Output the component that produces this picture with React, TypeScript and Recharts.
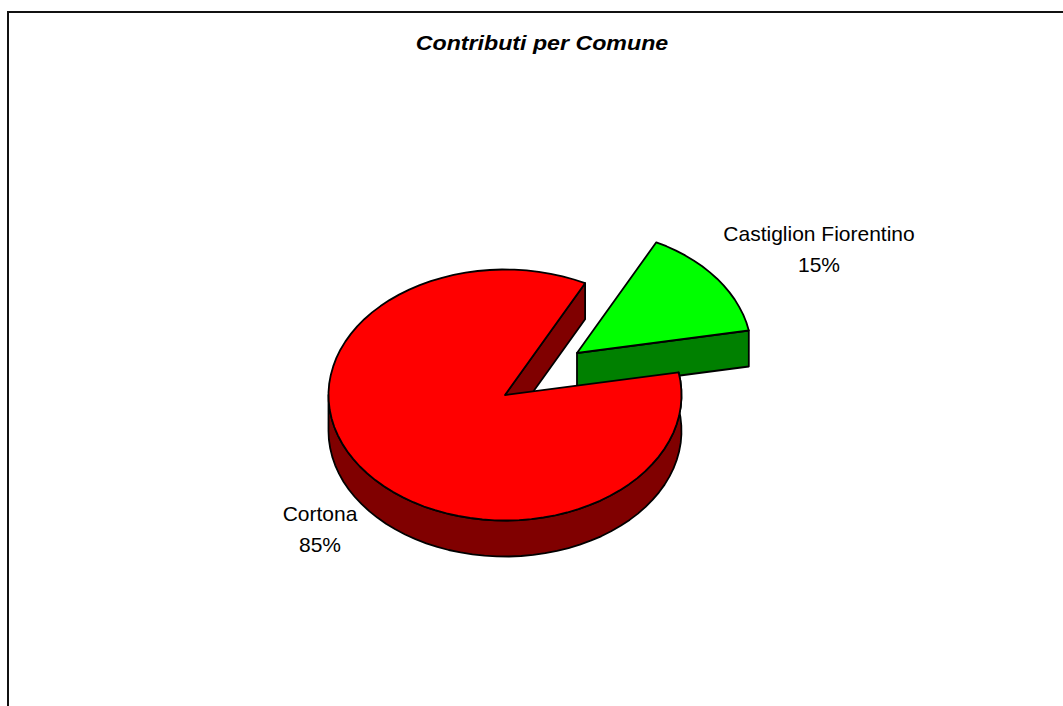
import { Pie, PieChart } from 'recharts';

const comuni = ['Castiglion Fiorentino', 'Cortona'];
const contributi = [14.6, 85.4];
const topColors = ['#00ff00', '#ff0000'];
const sideColors = ['#008000', '#800000'];

const rows = comuni.map((name, i) => ({ name, value: contributi[i], fill: topColors[i] }));

const FONT = '"Liberation Sans", Arial, sans-serif';
const SQUASH = 125.5 / 176.5; // pie seen at an angle
const DEPTH = 36;
const EXPLODE = [{ dx: 72, dy: -42, scale: 0.99 }, { dx: 0, dy: 0, scale: 1 }];
const LABEL_POS = [{ x: 819, y: 241 }, { x: 320, y: 521 }];

const RAD = Math.PI / 180;

const rimPoint = (cx: number, cy: number, r: number, deg: number) => [
  cx + r * Math.cos(deg * RAD),
  cy - r * SQUASH * Math.sin(deg * RAD),
];

// rim sampled in short chords, the original is not a perfectly smooth ellipse
const rim = (cx: number, cy: number, r: number, from: number, to: number) => {
  const steps = Math.max(2, Math.ceil(Math.abs(to - from) / 4));
  const pts: number[][] = [];
  for (let i = 0; i <= steps; i++) {
    pts.push(rimPoint(cx, cy, r, from + ((to - from) * i) / steps));
  }
  return pts;
};

const toPath = (pts: number[][]) =>
  'M' + pts.map((p) => `${p[0].toFixed(1)},${p[1].toFixed(1)}`).join('L') + 'Z';

const down = (pts: number[][]) => pts.map((p) => [p[0], p[1] + DEPTH]);

const Slice3D = (props: any) => {
  const { cx, cy, outerRadius, startAngle, endAngle, index } = props;
  const i = index ?? (props.name === comuni[0] ? 0 : 1);
  const x = cx + EXPLODE[i].dx;
  const y = cy + EXPLODE[i].dy;
  const r = outerRadius * EXPLODE[i].scale;
  const hi = Math.max(startAngle, endAngle);
  const lo = Math.min(startAngle, endAngle);
  const centre = [x, y];
  const top = [centre, ...rim(x, y, r, hi, lo)];
  const stroke = { stroke: '#000', strokeWidth: 1.8, strokeLinejoin: 'round' as const };

  // the cut edge that ends the slice faces the viewer, plus the front half of the rim on the big slice
  const edge = rimPoint(x, y, r, lo);
  const walls: number[][][] = [[centre, edge, ...down([edge, centre])]];
  if (hi - lo >= 180) {
    const front = rim(x, y, r, hi, -180);
    walls.push([...front, ...down(front).reverse()]);
  }

  return (
    <g>
      {walls.map((w, k) => (
        <path key={k} d={toPath(w)} fill={sideColors[i]} {...stroke} />
      ))}
      <path d={toPath(top)} fill={topColors[i]} {...stroke} />
    </g>
  );
};

const SliceLabel = (props: any) => {
  const i = comuni.indexOf(props.name);
  const pos = LABEL_POS[i];
  return (
    <text x={pos.x} y={pos.y} textAnchor="middle" fontFamily={FONT} fontSize={21} fill="#000">
      <tspan x={pos.x}>{comuni[i]}</tspan>
      <tspan x={pos.x} dy={31}>{`${Math.round(props.percent * 100)}%`}</tspan>
    </text>
  );
};

export default function App() {
  return (
    <div style={{ position: 'absolute', left: 0, top: 0, width: 1063, height: 706, overflow: 'hidden', background: '#fff' }}>
      <div style={{ position: 'absolute', left: 7, top: 11, width: 1100, height: 800, border: '2px solid #111' }} />
      <div style={{ position: 'absolute', left: 0, top: 0 }}>
        <PieChart width={1063} height={706} margin={{ top: 0, right: 0, bottom: 0, left: 0 }}>
          <text transform="translate(542 50) scale(1.16 1)" textAnchor="middle" fontFamily={FONT} fontSize={20} fontWeight="bold" fontStyle="italic" fill="#000">
            Contributi per Comune
          </text>
          <Pie
            data={rows}
            dataKey="value"
            nameKey="name"
            cx={505}
            cy={395}
            innerRadius={0}
            outerRadius={176.5}
            startAngle={63}
            endAngle={-297}
            stroke="none"
            shape={Slice3D}
            label={SliceLabel}
            labelLine={false}
            isAnimationActive={false}
          />
        </PieChart>
      </div>
    </div>
  );
}
